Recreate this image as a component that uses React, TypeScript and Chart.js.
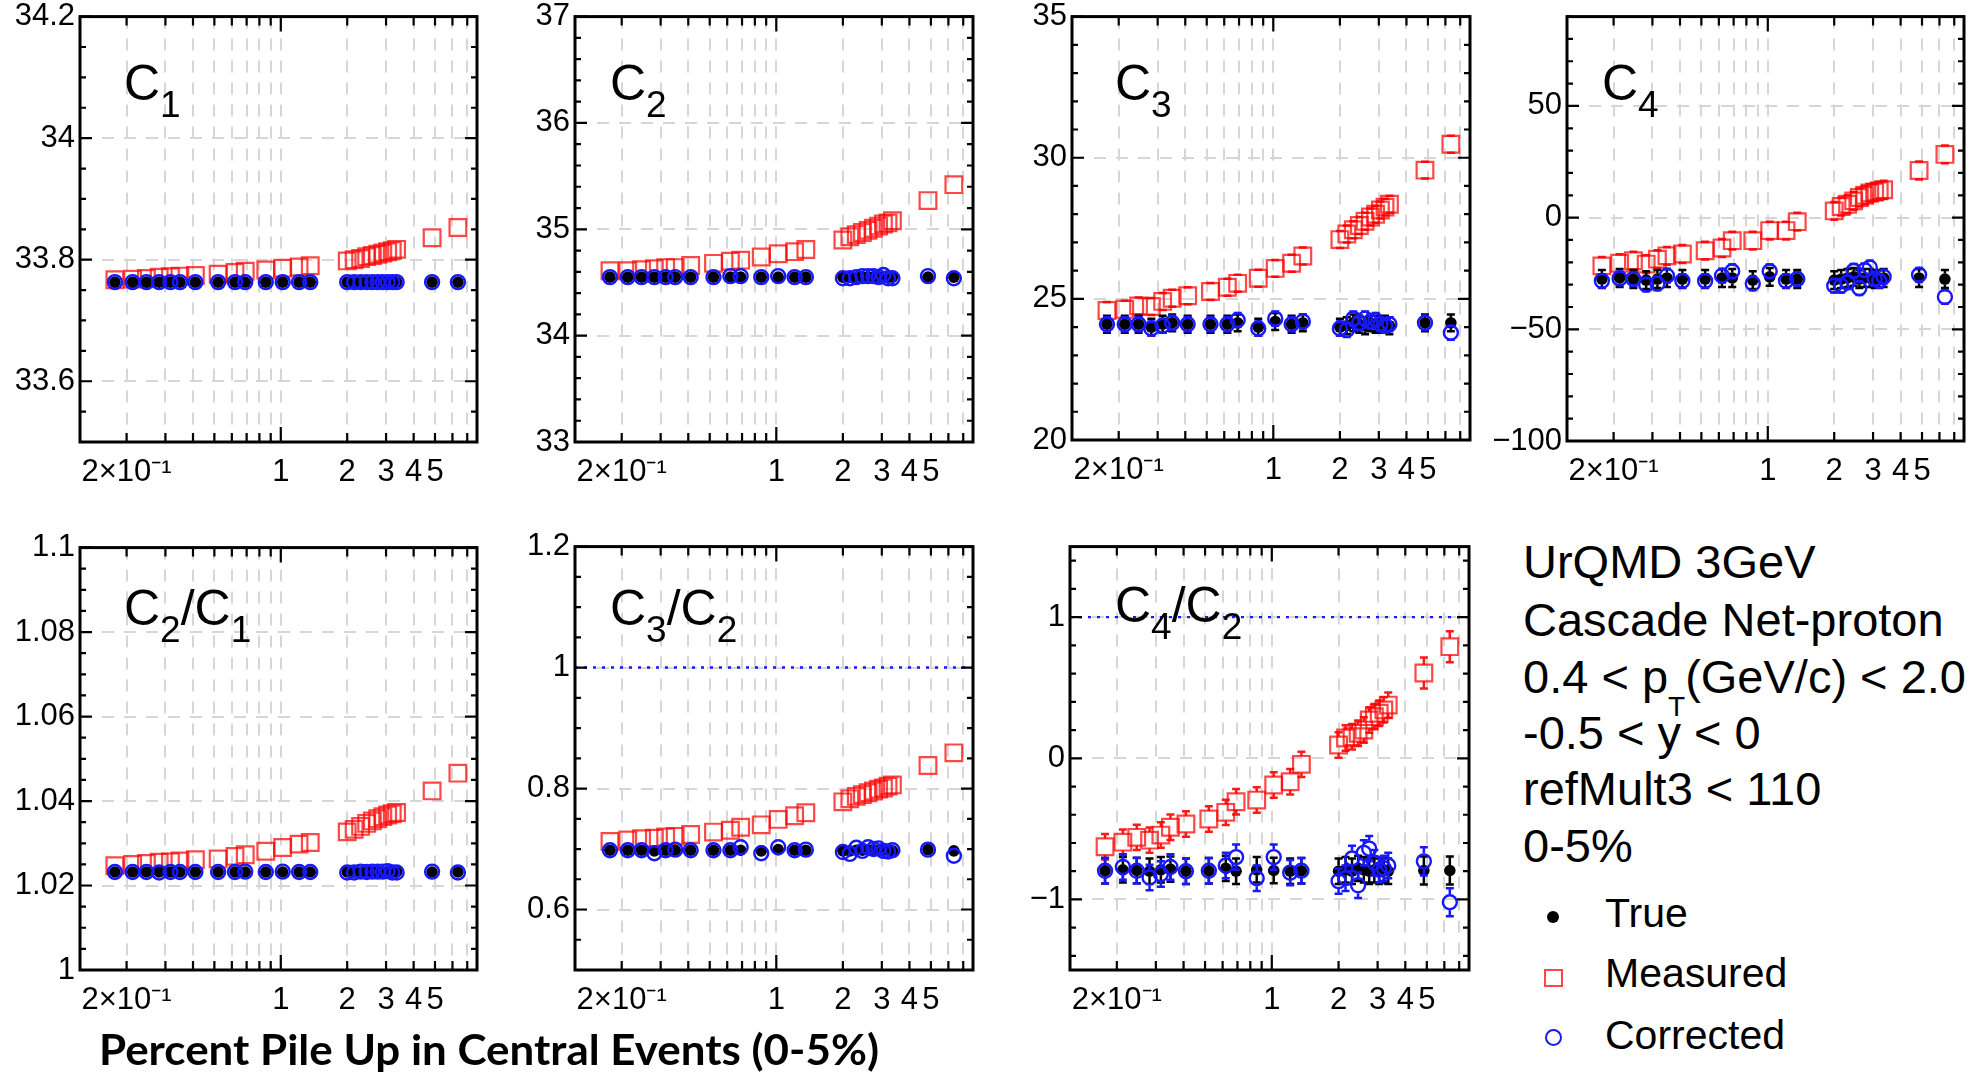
import React, { useEffect, useLayoutEffect, useRef } from "react";
import { Chart, registerables } from "chart.js";

Chart.register(...registerables);

// ---------------- data ----------------
const pileUpPercent = [0.177, 0.213, 0.246, 0.281, 0.316, 0.349, 0.41, 0.52, 0.62, 0.69, 0.855, 1.02, 1.21, 1.36, 2.0, 2.15, 2.3, 2.45, 2.6, 2.75, 2.9, 3.05, 3.2, 3.35, 4.85, 6.35];

const xTickValues = [0.2, 0.3, 0.4, 0.5, 0.6, 0.7, 0.8, 0.9, 1, 2, 3, 4, 5, 6, 7];
const xTickLabels = ["2×10⁻¹", "", "", "", "", "", "", "", "1", "2", "3", "4", "5", "", ""];
const X_MIN = 0.123;
const X_MAX = 7.75;

// C1
const c1True = [33.763, 33.763, 33.763, 33.763, 33.763, 33.763, 33.763, 33.763, 33.763, 33.763, 33.763, 33.763, 33.763, 33.763, 33.763, 33.763, 33.763, 33.763, 33.763, 33.763, 33.763, 33.763, 33.763, 33.763, 33.763, 33.763];
const c1Measured = [33.767, 33.768, 33.769, 33.771, 33.772, 33.773, 33.774, 33.776, 33.779, 33.781, 33.783, 33.786, 33.788, 33.79, 33.798, 33.8, 33.802, 33.805, 33.807, 33.809, 33.811, 33.813, 33.815, 33.817, 33.836, 33.853];
const c1Corrected = [33.763, 33.763, 33.763, 33.763, 33.763, 33.763, 33.763, 33.763, 33.763, 33.763, 33.763, 33.763, 33.763, 33.763, 33.763, 33.763, 33.763, 33.763, 33.763, 33.763, 33.763, 33.763, 33.763, 33.763, 33.763, 33.763];
const c1YTicks = [33.6, 33.8, 34, 34.2];
const c1YTickLabels = ["33.6", "33.8", "34", "34.2"];

// C2
const c2True = [34.55, 34.55, 34.55, 34.55, 34.55, 34.55, 34.55, 34.55, 34.55, 34.55, 34.55, 34.55, 34.55, 34.55, 34.55, 34.55, 34.55, 34.55, 34.55, 34.55, 34.55, 34.55, 34.55, 34.55, 34.55, 34.55];
const c2Measured = [34.61, 34.61, 34.62, 34.63, 34.64, 34.64, 34.66, 34.68, 34.7, 34.71, 34.74, 34.77, 34.79, 34.81, 34.9, 34.93, 34.95, 34.97, 34.99, 35.01, 35.03, 35.05, 35.06, 35.08, 35.27, 35.42];
const c2Corrected = [34.55, 34.55, 34.55, 34.55, 34.55, 34.55, 34.55, 34.55, 34.56, 34.56, 34.55, 34.56, 34.55, 34.55, 34.54, 34.54, 34.55, 34.56, 34.56, 34.56, 34.55, 34.57, 34.54, 34.54, 34.56, 34.54];
const c2YTicks = [33, 34, 35, 36, 37];
const c2YTickLabels = ["33", "34", "35", "36", "37"];

// C3
const c3True = [24.1, 24.1, 24.1, 24.0, 24.1, 24.15, 24.1, 24.1, 24.1, 24.15, 24.0, 24.2, 24.1, 24.15, 24.0, 24.05, 24.15, 24.1, 24.05, 24.15, 24.1, 24.1, 24.1, 24.05, 24.15, 24.15];
const c3Measured = [24.59, 24.63, 24.75, 24.73, 24.91, 25.02, 25.11, 25.26, 25.41, 25.55, 25.73, 26.08, 26.26, 26.52, 27.1, 27.3, 27.45, 27.6, 27.75, 27.9, 28.0, 28.15, 28.25, 28.35, 29.56, 30.48];
const c3Corrected = [24.1, 24.1, 24.1, 23.95, 24.05, 24.15, 24.1, 24.1, 24.1, 24.25, 23.95, 24.3, 24.1, 24.2, 23.95, 23.9, 24.3, 24.15, 24.3, 24.2, 24.25, 24.1, 24.05, 24.1, 24.15, 23.8];
const c3TrueErr = 0.3;
const c3MeasuredErr = 0.3;
const c3CorrectedErr = 0.25;
const c3YTicks = [20, 25, 30, 35];
const c3YTickLabels = ["20", "25", "30", "35"];

// C4
const c4True = [-27.5, -27.0, -27.5, -28.0, -27.5, -27.0, -27.5, -27.5, -27.0, -27.0, -28.0, -26.5, -27.5, -27.5, -28.0, -27.5, -27.0, -26.5, -27.5, -27.0, -27.0, -27.5, -27.5, -27.0, -27.0, -27.5];
const c4Measured = [-21.6, -20.4, -19.3, -20.8, -18.6, -17.1, -16.3, -14.8, -13.6, -10.3, -10.3, -5.8, -5.8, -1.8, 3.0, 5.0, 6.0, 7.5, 9.0, 10.0, 11.0, 11.5, 12.0, 12.5, 21.1, 28.3];
const c4Corrected = [-28.3, -27.2, -27.5, -30.0, -29.5, -26.0, -28.3, -28.3, -26.0, -24.0, -29.5, -24.0, -28.3, -27.5, -30.5, -30.5, -29.0, -23.8, -31.6, -23.5, -22.3, -27.5, -28.3, -26.5, -25.6, -35.5];
const c4TrueErr = 4;
const c4MeasuredErr = 4;
const c4CorrectedErr = 3;
const c4YTicks = [-100, -50, 0, 50];
const c4YTickLabels = ["−100", "−50", "0", "50"];

// C2/C1
const c21True = [1.0232, 1.0232, 1.0232, 1.0232, 1.0232, 1.0232, 1.0232, 1.0232, 1.0232, 1.0232, 1.0232, 1.0232, 1.0232, 1.0232, 1.0232, 1.0232, 1.0232, 1.0232, 1.0232, 1.0232, 1.0232, 1.0232, 1.0232, 1.0232, 1.0232, 1.0232];
const c21Measured = [1.0247, 1.025, 1.0252, 1.0255, 1.0256, 1.0258, 1.0261, 1.0263, 1.0269, 1.0273, 1.0281, 1.029, 1.0298, 1.0302, 1.0327, 1.0333, 1.034, 1.0347, 1.0353, 1.0358, 1.0363, 1.0367, 1.037, 1.0373, 1.0424, 1.0466];
const c21Corrected = [1.0232, 1.0232, 1.0232, 1.0231, 1.0232, 1.0232, 1.0232, 1.0232, 1.0232, 1.0233, 1.0232, 1.0233, 1.0232, 1.0232, 1.0231, 1.0231, 1.0233, 1.0232, 1.0233, 1.0233, 1.0233, 1.0234, 1.0231, 1.0231, 1.0233, 1.0231];
const c21YTicks = [1, 1.02, 1.04, 1.06, 1.08, 1.1];
const c21YTickLabels = ["1", "1.02", "1.04", "1.06", "1.08", "1.1"];

// C3/C2
const c32True = [0.698, 0.698, 0.698, 0.697, 0.698, 0.698, 0.698, 0.698, 0.698, 0.698, 0.697, 0.699, 0.698, 0.698, 0.697, 0.697, 0.698, 0.698, 0.698, 0.699, 0.698, 0.698, 0.698, 0.697, 0.699, 0.697];
const c32Measured = [0.7125, 0.715, 0.717, 0.718, 0.72, 0.721, 0.724, 0.728, 0.731, 0.736, 0.74, 0.749, 0.755, 0.76, 0.778, 0.783, 0.787, 0.79, 0.793, 0.796, 0.799, 0.801, 0.804, 0.806, 0.838, 0.859];
const c32Corrected = [0.698, 0.698, 0.698, 0.693, 0.698, 0.699, 0.698, 0.698, 0.698, 0.703, 0.693, 0.703, 0.698, 0.699, 0.695, 0.692, 0.702, 0.697, 0.703, 0.7, 0.701, 0.697, 0.696, 0.698, 0.699, 0.689];
const c32YTicks = [0.6, 0.8, 1, 1.2];
const c32YTickLabels = ["0.6", "0.8", "1", "1.2"];
const c32RefLine = 1;

// C4/C2
const c42True = [-0.797, -0.79, -0.795, -0.8, -0.79, -0.785, -0.8, -0.797, -0.78, -0.8, -0.79, -0.795, -0.8, -0.797, -0.8, -0.79, -0.8, -0.78, -0.79, -0.8, -0.79, -0.8, -0.79, -0.8, -0.795, -0.795];
const c42Measured = [-0.627, -0.594, -0.56, -0.58, -0.544, -0.489, -0.466, -0.43, -0.383, -0.308, -0.296, -0.189, -0.166, -0.043, 0.094, 0.144, 0.153, 0.177, 0.2, 0.271, 0.295, 0.319, 0.343, 0.377, 0.604, 0.791];
const c42Corrected = [-0.797, -0.77, -0.797, -0.845, -0.82, -0.77, -0.8, -0.797, -0.76, -0.7, -0.85, -0.7, -0.81, -0.797, -0.87, -0.85, -0.71, -0.9, -0.67, -0.64, -0.74, -0.79, -0.78, -0.76, -0.73, -1.02];
const c42TrueErr = [0.09, 0.09, 0.09, 0.09, 0.09, 0.09, 0.09, 0.09, 0.09, 0.09, 0.09, 0.09, 0.09, 0.09, 0.09, 0.09, 0.09, 0.09, 0.09, 0.09, 0.09, 0.09, 0.09, 0.09, 0.1, 0.1];
const c42MeasuredErr = [0.09, 0.09, 0.09, 0.09, 0.09, 0.09, 0.09, 0.09, 0.09, 0.09, 0.09, 0.09, 0.09, 0.09, 0.09, 0.09, 0.09, 0.09, 0.09, 0.09, 0.09, 0.09, 0.09, 0.09, 0.11, 0.11];
const c42CorrectedErr = [0.09, 0.09, 0.09, 0.09, 0.09, 0.09, 0.09, 0.09, 0.09, 0.09, 0.09, 0.09, 0.09, 0.09, 0.09, 0.09, 0.09, 0.09, 0.09, 0.09, 0.09, 0.09, 0.09, 0.09, 0.1, 0.1];
const c42YTicks = [-1, 0, 1];
const c42YTickLabels = ["−1", "0", "1"];
const c42RefLine = 1;

// text
const infoLines: [string, boolean][][] = [
  [["UrQMD 3GeV", false]],
  [["Cascade Net-proton", false]],
  [["0.4 < p", false], ["T", true], ["(GeV/c) < 2.0", false]],
  [["-0.5 < y < 0", false]],
  [["refMult3 < 110", false]],
  [["0-5%", false]],
];
const legendLabels = ["True", "Measured", "Corrected"];
const xAxisTitle = "Percent Pile Up in Central Events (0-5%)";

// ---------------- styling / layout ----------------
const RED = "rgba(255,0,0,0.72)";
const BLUE = "#1818ff";
const BLACK = "#000000";
const GRID = "#d6d6d6";
const TICK_FONT = { family: "'Liberation Sans', Arial, sans-serif", size: 31 };
const AXIS_W = 95;
const AXIS_H = 70;
const PAD_T = 22;
const PAD_R = 14;

type Part = [string, boolean];

const PANELS = [
  { key: "c1", frame: { left: 80, top: 15, width: 397, height: 427 }, yMin: 33.5, yMax: 34.2, minor: 0.05, yTicks: c1YTicks, yLabels: c1YTickLabels, t: c1True, m: c1Measured, c: c1Corrected, tE: null, mE: null, cE: null, ref: null, title: [["C", false], ["1", true]] as Part[], tx: 127, tb: 100 },
  { key: "c2", frame: { left: 575, top: 15, width: 398, height: 427 }, yMin: 33, yMax: 37, minor: 0.2, yTicks: c2YTicks, yLabels: c2YTickLabels, t: c2True, m: c2Measured, c: c2Corrected, tE: null, mE: null, cE: null, ref: null, title: [["C", false], ["2", true]] as Part[], tx: 613, tb: 100 },
  { key: "c3", frame: { left: 1072, top: 15, width: 398, height: 425 }, yMin: 20, yMax: 35, minor: 1, yTicks: c3YTicks, yLabels: c3YTickLabels, t: c3True, m: c3Measured, c: c3Corrected, tE: c3TrueErr, mE: c3MeasuredErr, cE: c3CorrectedErr, ref: null, title: [["C", false], ["3", true]] as Part[], tx: 1118, tb: 100 },
  { key: "c4", frame: { left: 1567, top: 15, width: 397, height: 426 }, yMin: -100, yMax: 90, minor: 10, yTicks: c4YTicks, yLabels: c4YTickLabels, t: c4True, m: c4Measured, c: c4Corrected, tE: c4TrueErr, mE: c4MeasuredErr, cE: c4CorrectedErr, ref: null, title: [["C", false], ["4", true]] as Part[], tx: 1605, tb: 100 },
  { key: "c21", frame: { left: 80, top: 546, width: 397, height: 424 }, yMin: 1, yMax: 1.1, minor: 0.005, yTicks: c21YTicks, yLabels: c21YTickLabels, t: c21True, m: c21Measured, c: c21Corrected, tE: null, mE: null, cE: null, ref: null, title: [["C", false], ["2", true], ["/C", false], ["1", true]] as Part[], tx: 127, tb: 625 },
  { key: "c32", frame: { left: 575, top: 545, width: 398, height: 425 }, yMin: 0.5, yMax: 1.2, minor: 0.05, yTicks: c32YTicks, yLabels: c32YTickLabels, t: c32True, m: c32Measured, c: c32Corrected, tE: null, mE: null, cE: null, ref: c32RefLine, title: [["C", false], ["3", true], ["/C", false], ["2", true]] as Part[], tx: 613, tb: 625 },
  { key: "c42", frame: { left: 1070, top: 545, width: 399, height: 425 }, yMin: -1.5, yMax: 1.5, minor: 0.2, yTicks: c42YTicks, yLabels: c42YTickLabels, t: c42True, m: c42Measured, c: c42Corrected, tE: c42TrueErr, mE: c42MeasuredErr, cE: c42CorrectedErr, ref: c42RefLine, title: [["C", false], ["4", true], ["/C", false], ["2", true]] as Part[], tx: 1118, tb: 622 },
];

function buildMinorTicks(min: number, max: number, step: number) {
  const out: number[] = [];
  const k0 = Math.ceil(min / step - 1e-9);
  for (let k = k0; k * step <= max + step * 1e-6; k++) out.push(Number((k * step).toFixed(8)));
  return out;
}

function Panel({ cfg }: { cfg: any }) {
  const ref = useRef<HTMLCanvasElement | null>(null);
  const f = cfg.frame;
  const cw = AXIS_W + f.width + PAD_R;
  const ch = PAD_T + f.height + AXIS_H;

  useEffect(() => {
    if (!ref.current) return;
    const eps = cfg.minor * 1e-3;
    const majorIndex = (v: number) => cfg.yTicks.findIndex((m: number) => Math.abs(m - v) < eps);
    const yAll = buildMinorTicks(cfg.yMin, cfg.yMax, cfg.minor);

    const toPts = (arr: number[]) => pileUpPercent.map((x, i) => ({ x, y: arr[i] }));

    const errorBarPlugin = {
      id: "errorBars",
      beforeDatasetDraw(chart: any, args: any) {
        const ds: any = chart.data.datasets[args.index];
        if (ds.errors == null) return;
        const ys = chart.scales.y;
        const ctx = chart.ctx;
        const a = chart.chartArea;
        ctx.save();
        ctx.beginPath();
        ctx.rect(a.left, a.top, a.right - a.left, a.bottom - a.top);
        ctx.clip();
        ctx.strokeStyle = ds.errorColor;
        ctx.lineWidth = 2.5;
        ctx.beginPath();
        args.meta.data.forEach((el: any, i: number) => {
          const raw = ds.data[i];
          const e = Array.isArray(ds.errors) ? ds.errors[i] : ds.errors;
          const pt = ys.getPixelForValue(raw.y + e);
          const pb = ys.getPixelForValue(raw.y - e);
          const gap = ds.errorGap;
          const x = el.x;
          const y = el.y;
          if (pt < y - gap) { ctx.moveTo(x, pt); ctx.lineTo(x, y - gap); }
          if (pb > y + gap) { ctx.moveTo(x, y + gap); ctx.lineTo(x, pb); }
          ctx.moveTo(x - 4, pt); ctx.lineTo(x + 4, pt);
          ctx.moveTo(x - 4, pb); ctx.lineTo(x + 4, pb);
        });
        ctx.stroke();
        ctx.restore();
      },
    };

    const framePlugin = {
      id: "rootFrame",
      beforeDatasetsDraw(chart: any) {
        if (cfg.ref == null) return;
        const { ctx, chartArea: a, scales } = chart;
        const py = scales.y.getPixelForValue(cfg.ref);
        ctx.save();
        ctx.strokeStyle = BLUE;
        ctx.lineWidth = 2.4;
        ctx.setLineDash([3, 6]);
        ctx.beginPath();
        ctx.moveTo(a.left, py);
        ctx.lineTo(a.right, py);
        ctx.stroke();
        ctx.restore();
      },
      afterDraw(chart: any) {
        const { ctx, chartArea: a, scales } = chart;
        ctx.save();
        ctx.strokeStyle = "#000";
        ctx.lineWidth = 2.2;
        ctx.beginPath();
        for (const t of scales.y.ticks) {
          const py = scales.y.getPixelForValue(t.value);
          const len = majorIndex(t.value) >= 0 ? 12 : 6;
          ctx.moveTo(a.left, py); ctx.lineTo(a.left + len, py);
          ctx.moveTo(a.right, py); ctx.lineTo(a.right - len, py);
        }
        for (const t of scales.x.ticks) {
          const px = scales.x.getPixelForValue(t.value);
          const len = t.value === 1 ? 15 : 9;
          ctx.moveTo(px, a.bottom); ctx.lineTo(px, a.bottom - len);
          ctx.moveTo(px, a.top); ctx.lineTo(px, a.top + len);
        }
        ctx.stroke();
        ctx.lineWidth = 3;
        ctx.strokeRect(a.left, a.top, a.right - a.left, a.bottom - a.top);
        ctx.restore();
      },
    };

    const chart = new Chart(ref.current, {
      type: "scatter",
      data: {
        datasets: [
          {
            label: "Corrected",
            data: toPts(cfg.c),
            order: 0,
            pointStyle: "circle",
            pointRadius: 7,
            pointBorderWidth: 2.4,
            pointBorderColor: BLUE,
            pointBackgroundColor: "rgba(0,0,0,0)",
            errors: cfg.cE,
            errorColor: BLUE,
            errorGap: 8,
          } as any,
          {
            label: "True",
            data: toPts(cfg.t),
            order: 1,
            pointStyle: "circle",
            pointRadius: 5.8,
            pointBorderWidth: 0,
            pointBorderColor: BLACK,
            pointBackgroundColor: BLACK,
            errors: cfg.tE,
            errorColor: BLACK,
            errorGap: 5.5,
          } as any,
          {
            label: "Measured",
            data: toPts(cfg.m),
            order: 2,
            pointStyle: "rect",
            pointRadius: 11.8,
            pointBorderWidth: 2.2,
            pointBorderColor: RED,
            pointBackgroundColor: "rgba(0,0,0,0)",
            errors: cfg.mE,
            errorColor: "rgba(255,0,0,0.9)",
            errorGap: 8.3,
          } as any,
        ],
      },
      options: {
        animation: false,
        responsive: false,
        devicePixelRatio: 1,
        events: [],
        layout: { padding: { left: 0, top: PAD_T, right: PAD_R, bottom: 0 } },
        plugins: { legend: { display: false }, tooltip: { enabled: false } },
        scales: {
          x: {
            type: "logarithmic",
            position: "bottom",
            min: X_MIN,
            max: X_MAX,
            afterBuildTicks: (s: any) => { s.ticks = xTickValues.map((v) => ({ value: v })); },
            afterFit: (s: any) => { s.height = AXIS_H; },
            ticks: {
              autoSkip: false,
              maxRotation: 0,
              minRotation: 0,
              padding: 12,
              color: "#000",
              font: TICK_FONT,
              callback: (_v: any, i: number) => xTickLabels[i] ?? "",
            },
            grid: { color: GRID, lineWidth: 2, drawTicks: false },
            border: { display: false, dash: [12, 10] },
          },
          y: {
            type: "linear",
            position: "left",
            min: cfg.yMin,
            max: cfg.yMax,
            afterBuildTicks: (s: any) => { s.ticks = yAll.map((v) => ({ value: v })); },
            afterFit: (s: any) => { s.width = AXIS_W; },
            ticks: {
              autoSkip: false,
              padding: 5,
              color: "#000",
              font: TICK_FONT,
              callback: (v: any) => {
                const k = majorIndex(Number(v));
                return k >= 0 ? cfg.yLabels[k] : "";
              },
            },
            grid: {
              color: (ctx: any) => (ctx.tick && majorIndex(ctx.tick.value) >= 0 ? GRID : "rgba(0,0,0,0)"),
              lineWidth: 2,
              drawTicks: false,
            },
            border: { display: false, dash: [12, 10] },
          },
        },
      } as any,
      plugins: [errorBarPlugin, framePlugin],
    });
    return () => chart.destroy();
  }, []);

  return (
    <canvas
      ref={ref}
      width={cw}
      height={ch}
      style={{ position: "absolute", left: f.left - AXIS_W, top: f.top - PAD_T, width: cw, height: ch }}
    />
  );
}

function RichText({ parts, left, baseline, size, subSize, subShift }: any) {
  const top = baseline - 0.8465 * size;
  return (
    <div
      style={{
        position: "absolute",
        left,
        top,
        fontSize: size,
        lineHeight: `${size}px`,
        fontFamily: "'Liberation Sans', Arial, sans-serif",
        whiteSpace: "nowrap",
        color: "#000",
      }}
    >
      {parts.map(([t, sub]: Part, i: number) =>
        sub ? (
          <span key={i} style={{ fontSize: subSize, position: "relative", top: subShift }}>{t}</span>
        ) : (
          <span key={i}>{t}</span>
        )
      )}
    </div>
  );
}

function XTitle() {
  const ref = useRef<HTMLSpanElement | null>(null);
  useLayoutEffect(() => {
    const el = ref.current;
    if (!el) return;
    const w = el.getBoundingClientRect().width;
    if (w > 0) el.style.transform = `scaleX(${780 / w})`;
  }, []);
  const size = 42;
  return (
    <span
      ref={ref}
      style={{
        position: "absolute",
        left: 99,
        top: 1065 - 0.887 * size,
        fontFamily: "Lato, 'Open Sans', sans-serif",
        fontWeight: 700,
        fontSize: size,
        lineHeight: `${size}px`,
        whiteSpace: "nowrap",
        display: "inline-block",
        transformOrigin: "0 0",
        color: "#000",
      }}
    >
      {xAxisTitle}
    </span>
  );
}

const INFO_BASELINES = [578, 636, 692.5, 749, 805, 861.5];
const LEGEND_BASELINES = [928, 988, 1050];

export default function App() {
  return (
    <div
      style={{
        position: "absolute",
        left: 0,
        top: 0,
        width: 1975,
        height: 1073,
        background: "#fff",
        overflow: "hidden",
      }}
    >
      {PANELS.map((p) => (
        <Panel key={p.key} cfg={p} />
      ))}
      {PANELS.map((p) => (
        <RichText key={"t" + p.key} parts={p.title} left={p.tx - 3} baseline={p.tb} size={50} subSize={37} subShift={17} />
      ))}
      {infoLines.map((parts, i) => (
        <RichText key={"i" + i} parts={parts} left={1523} baseline={INFO_BASELINES[i]} size={47} subSize={28} subShift={23} />
      ))}
      {/* legend markers */}
      <div style={{ position: "absolute", left: 1547, top: 911, width: 12, height: 12, borderRadius: "50%", background: BLACK }} />
      <div style={{ position: "absolute", left: 1544, top: 969, width: 19, height: 18, boxSizing: "border-box", border: `2.5px solid ${RED}` }} />
      <div style={{ position: "absolute", left: 1545, top: 1029, width: 17, height: 17, boxSizing: "border-box", border: `2.5px solid ${BLUE}`, borderRadius: "50%" }} />
      {legendLabels.map((t, i) => (
        <RichText key={"l" + i} parts={[[t, false]]} left={1605} baseline={LEGEND_BASELINES[i]} size={41} subSize={30} subShift={0} />
      ))}
      <XTitle />
    </div>
  );
}
